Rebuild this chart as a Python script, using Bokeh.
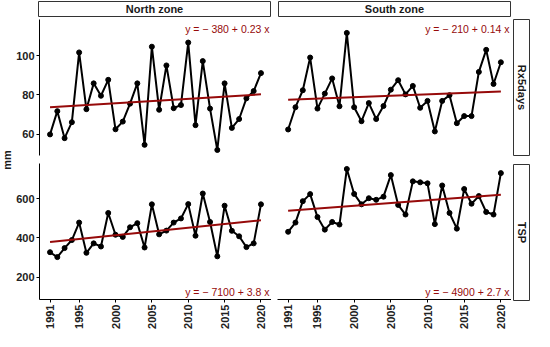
import numpy as np
from math import pi
from bokeh.plotting import figure
from bokeh.models import Label, FixedTicker, Range1d, Spacer
from bokeh.layouts import row, column
from bokeh.embed import file_html
from bokeh.resources import INLINE

years = list(range(1991, 2021))
north_rx5 = [60.0, 71.8, 58.1, 66.2, 101.6, 72.8, 85.9, 79.6, 87.7, 62.6,
             66.5, 75.6, 85.9, 54.7, 104.5, 72.5, 95.0, 73.3, 74.9, 106.6,
             64.7, 97.2, 73.1, 52.1, 85.9, 63.3, 67.8, 78.3, 82.0, 91.1]
south_rx5 = [62.5, 73.8, 82.4, 99.0, 73.1, 80.7, 88.4, 74.3, 111.5, 73.8,
             66.7, 75.9, 67.8, 74.4, 82.7, 87.5, 80.3, 84.6, 73.5, 77.0,
             61.5, 77.0, 79.9, 65.7, 69.3, 69.3, 91.7, 102.9, 85.6, 96.6]
north_tsp = [327, 302, 348, 389, 478, 324, 372, 356, 527, 416,
             405, 454, 475, 351, 571, 418, 437, 478, 499, 572,
             411, 626, 481, 306, 564, 436, 408, 353, 372, 571]
south_tsp = [431, 478, 587, 623, 506, 442, 481, 468, 751, 624,
             571, 602, 594, 610, 720, 568, 519, 688, 683, 678,
             470, 667, 527, 447, 649, 574, 613, 532, 519, 730]

zones = ["North zone", "South zone"]
variables = ["Rx5days", "TSP"]
equations = ["y = \u2212 380 + 0.23 x", "y = \u2212 210 + 0.14 x",
             "y = \u2212 7100 + 3.8 x", "y = \u2212 4900 + 2.7 x"]
x_ticks = [1991, 1995, 2000, 2005, 2010, 2015, 2020]
rx5_ticks = [60, 80, 100]
tsp_ticks = [200, 400, 600]

FONT = "Liberation Sans"
RED = "#960a0a"
XR = (1989.55, 2021.45)
RX5_R = (49.3, 118.3)
TSP_R = (86, 779)

MMW = 13   # y title column width
FW = 234   # frame width
FH = 138   # frame height
LB = 24    # left border for tick labels
BB = 30    # bottom border for tick labels


def style_axis(ax):
    ax.axis_line_color = "black"
    ax.axis_line_width = 1
    ax.major_tick_line_color = "black"
    ax.major_tick_out = 3
    ax.major_tick_in = 0
    ax.minor_tick_line_color = None
    ax.major_label_text_font = FONT
    ax.major_label_text_font_size = "11px"
    ax.major_label_text_font_style = "bold"
    ax.major_label_text_color = "#222222"
    ax.major_label_standoff = 2


def panel(vals, yr, yticks, eq, top, left):
    w = FW + (LB if left else 0)
    h = FH + (0 if top else BB)
    p = figure(width=w, height=h, x_range=Range1d(*XR), y_range=Range1d(*yr),
               toolbar_location=None, output_backend="svg",
               x_axis_location=None if top else "below",
               y_axis_location="left" if left else None,
               min_border=0, min_border_left=LB if left else 0,
               min_border_bottom=0 if top else BB)
    p.outline_line_color = None
    p.grid.visible = False
    p.background_fill_color = "white"
    p.border_fill_color = "white"
    if left:
        style_axis(p.yaxis[0])
        p.yaxis[0].ticker = FixedTicker(ticks=yticks)
    if not top:
        style_axis(p.xaxis[0])
        p.xaxis[0].ticker = FixedTicker(ticks=x_ticks)
        p.xaxis[0].major_label_orientation = pi / 2
    p.line(years, vals, line_color="black", line_width=2)
    p.scatter(years, vals, size=5, fill_color="black", line_color="black")
    coef = np.polyfit(years, vals, 1)
    xs = [years[0], years[-1]]
    p.line(xs, list(np.polyval(coef, xs)), line_color=RED, line_width=2)
    if top:
        lab = Label(x=XR[1], y=yr[1], x_offset=-2, y_offset=-3, text=eq,
                    text_align="right", text_baseline="top")
    else:
        lab = Label(x=XR[1], y=yr[0], x_offset=-2, y_offset=2, text=eq,
                    text_align="right", text_baseline="bottom")
    lab.text_font = FONT
    lab.text_font_size = "10.5px"
    lab.text_color = RED
    p.add_layout(lab)
    return p


def strip(text, w, h, vertical=False):
    s = figure(width=w, height=h, x_range=Range1d(0, 1), y_range=Range1d(0, 1),
               toolbar_location=None, output_backend="svg",
               x_axis_location=None, y_axis_location=None, min_border=1)
    s.grid.visible = False
    s.outline_line_color = "#333333"
    s.outline_line_width = 1
    s.background_fill_color = "white"
    s.border_fill_color = "white"
    lab = Label(x=0.5, y=0.5, text=text, text_align="center", text_baseline="middle",
                angle=-pi / 2 if vertical else 0)
    lab.text_font = FONT
    lab.text_font_size = "11px"
    lab.text_font_style = "bold"
    lab.text_color = "#1a1a1a"
    s.add_layout(lab)
    return s


TOTAL_H = 17 + 1 + FH + 7 + FH + BB

# y-axis title column
mmfig = figure(width=MMW, height=TOTAL_H, x_range=Range1d(0, MMW), y_range=Range1d(0, TOTAL_H),
               toolbar_location=None, output_backend="svg",
               x_axis_location=None, y_axis_location=None, min_border=0)
mmfig.grid.visible = False
mmfig.outline_line_color = None
mmlab = Label(x=MMW / 2, y=TOTAL_H - (18 + (FH * 2 + 7) / 2), text="mm", angle=pi / 2,
              text_align="center", text_baseline="middle")
mmlab.text_font = FONT
mmlab.text_font_size = "11px"
mmlab.text_font_style = "bold"
mmlab.text_color = "#1a1a1a"
mmfig.add_layout(mmlab)

strip_row = row(Spacer(width=LB, height=17), strip(zones[0], FW, 17), Spacer(width=6, height=17),
                strip(zones[1], FW, 17))

p11 = panel(north_rx5, RX5_R, rx5_ticks, equations[0], True, True)
p12 = panel(south_rx5, RX5_R, rx5_ticks, equations[1], True, False)
p21 = panel(north_tsp, TSP_R, tsp_ticks, equations[2], False, True)
p22 = panel(south_tsp, TSP_R, tsp_ticks, equations[3], False, False)

row1 = row(p11, Spacer(width=6, height=FH), p12, Spacer(width=1, height=FH),
           strip(variables[0], 18, FH, vertical=True))
row2 = row(p21, Spacer(width=6, height=FH + BB), p22, Spacer(width=1, height=FH + BB),
           column(strip(variables[1], 18, FH, vertical=True), Spacer(width=18, height=BB)))

grid = column(strip_row, Spacer(height=1, width=10), row1, Spacer(height=7, width=10), row2)
layout = row(mmfig, grid)

open("out.html", "w").write(file_html(layout, INLINE))
